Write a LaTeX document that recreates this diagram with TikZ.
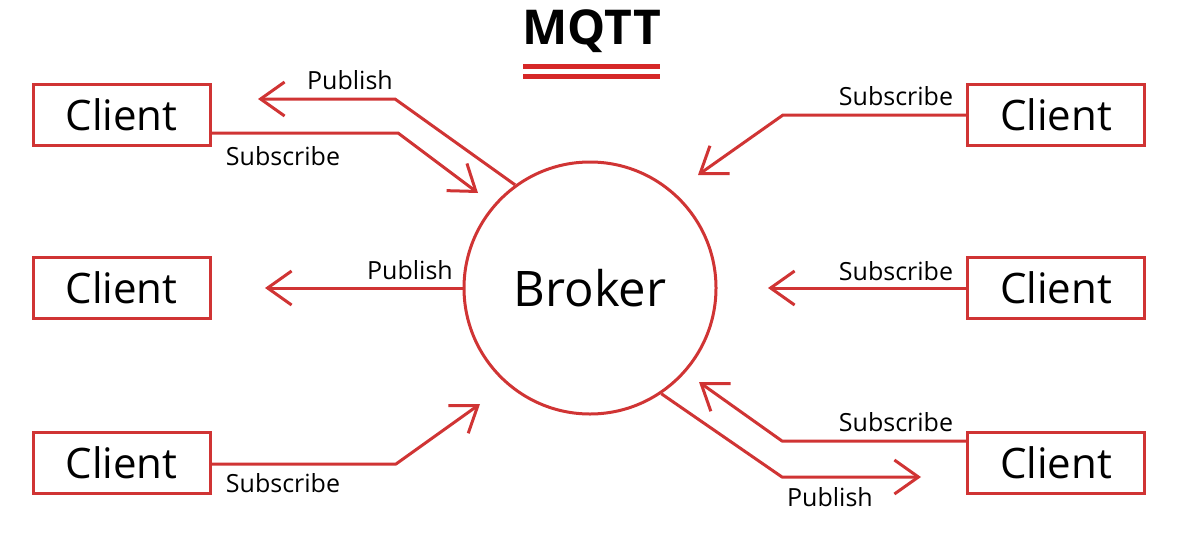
\documentclass[tikz,border=0pt]{standalone}
\usepackage{fontspec}
\setmainfont{Open Sans}
\usetikzlibrary{arrows.meta}
\definecolor{mred}{RGB}{208,52,52}
\definecolor{tred}{RGB}{214,40,40}
\begin{document}
\begin{tikzpicture}[x=1pt,y=-1pt,
  client/.style={draw=mred,line width=3pt,minimum width=177pt,minimum height=61pt,inner sep=0pt,font=\fontsize{42}{42}\selectfont},
  conn/.style={draw=mred,line width=3pt,line join=round,-{Straight Barb[length=24pt,width=34pt]}},
  lbl/.style={font=\fontsize{25}{25}\selectfont,inner sep=0pt}]
\useasboundingbox (0,0) rectangle (1182,538);
% title
\node[font=\fontsize{48}{48}\selectfont\bfseries,inner sep=0pt] (title) at (592,31) {MQTT};
\draw[tred,line width=5pt] (523,66) -- (660,66);
\draw[tred,line width=5pt] (523,76) -- (660,76);
% broker
\node[circle,draw=mred,line width=3pt,minimum size=252pt,inner sep=0pt,font=\fontsize{49}{49}\selectfont] (broker) at (590,288) {Broker};
% clients
\node[client] (cl1) at (121.5,114.5) {Client};
\node[client] (cl2) at (121.5,288) {Client};
\node[client] (cl3) at (121.5,462.5) {Client};
\node[client] (cr1) at (1056,114.5) {Client};
\node[client] (cr2) at (1056,288) {Client};
\node[client] (cr3) at (1056,462.5) {Client};
% coordinates
\coordinate (tlpb) at (395,99);
\coordinate (tlpt) at (258,99);
\coordinate (tlss) at (210,133);
\coordinate (tlsb) at (398,133);
\coordinate (tlst) at (478,193);
\coordinate (mlpt) at (265,288);
\coordinate (blsb) at (396,464);
\coordinate (blst) at (480,404);
\coordinate (trsb) at (783,115);
\coordinate (trst) at (698,175);
\coordinate (mrst) at (768,288);
\coordinate (brss) at (967,441);
\coordinate (brsb) at (782,441);
\coordinate (brst) at (699,382);
\coordinate (brpb) at (782,477);
\coordinate (brpt) at (921,477);
% connectors
\draw[conn] (broker.126) -- (tlpb) -- (tlpt);
\draw[conn] (tlss) -- (tlsb) -- (tlst);
\draw[conn] (broker.west) -- (mlpt);
\draw[conn] (cl3.east |- blsb) -- (blsb) -- (blst);
\draw[conn] (cr1.west |- trsb) -- (trsb) -- (trst);
\draw[conn] (cr2.west) -- (mrst);
\draw[conn] (brss) -- (brsb) -- (brst);
\draw[conn] (broker.-56) -- (brpb) -- (brpt);
% labels
\node[lbl] (l1) at (350,80) {Publish};
\node[lbl] (l2) at (283,156) {Subscribe};
\node[lbl] (l3) at (410,270) {Publish};
\node[lbl] (l4) at (283,483) {Subscribe};
\node[lbl] (l5) at (896,96) {Subscribe};
\node[lbl] (l6) at (896,271) {Subscribe};
\node[lbl] (l7) at (896,422) {Subscribe};
\node[lbl] (l8) at (830,497) {Publish};
\end{tikzpicture}
\end{document}
